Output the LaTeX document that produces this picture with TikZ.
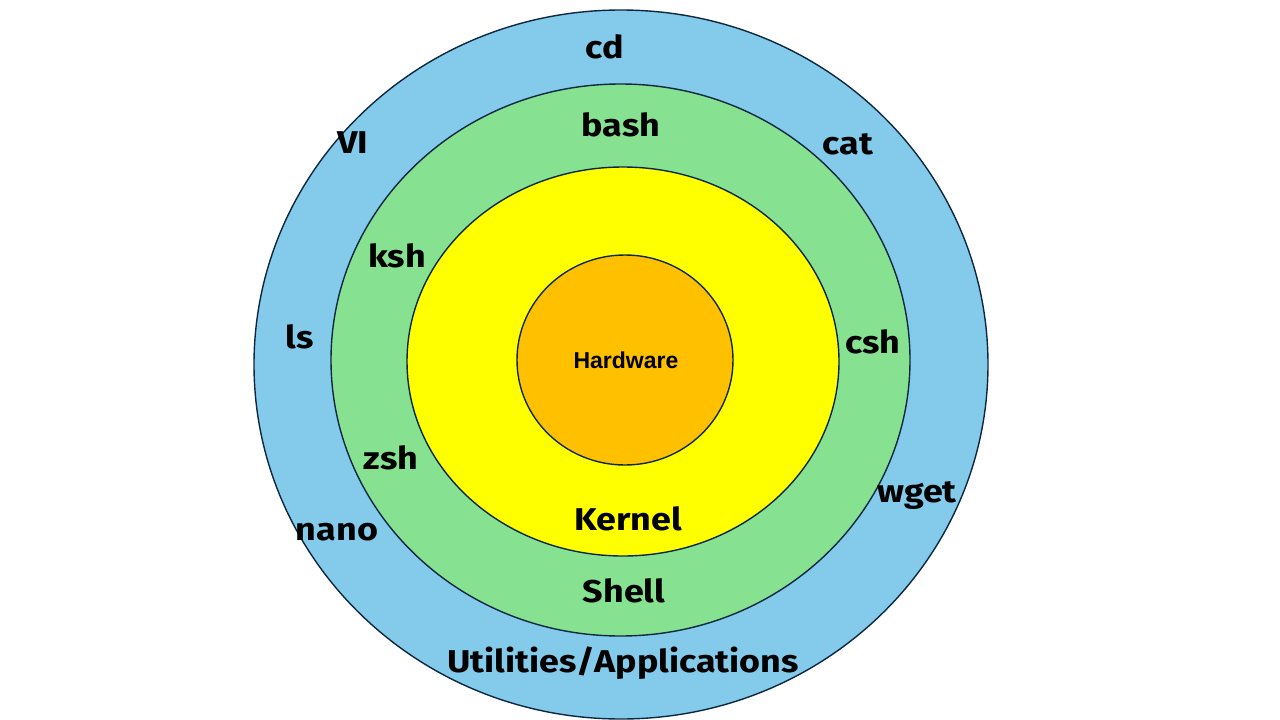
\documentclass[tikz,border=0pt]{standalone}
\usepackage{fontspec}
\setmainfont{Fira Sans}
\newfontfamily\hwfont{Liberation Sans}
\definecolor{ringblue}{HTML}{83CAEB}
\definecolor{ringgreen}{HTML}{86E291}
\definecolor{ringyellow}{HTML}{FFFF00}
\definecolor{ringorange}{HTML}{FFC000}
\definecolor{ringline}{HTML}{0E2841}
\begin{document}
\begin{tikzpicture}[x=1pt,y=-1pt,
  ring/.style={draw=ringline,line width=1.4pt},
  lbl/.style={font=\fontsize{31.5}{33}\selectfont\bfseries,inner sep=0pt,text=black,xscale=1.14}]
\useasboundingbox (0,0) rectangle (1280,720);
\fill[white] (0,0) rectangle (1280,720);
\draw[ring,fill=ringblue] (621,364.5) ellipse [x radius=367, y radius=354.5];
\draw[ring,fill=ringgreen] (620.5,360) ellipse [x radius=289.5, y radius=276];
\draw[ring,fill=ringyellow] (623,361.5) ellipse [x radius=216, y radius=194.5];
\draw[ring,fill=ringorange] (625,360) ellipse [x radius=108, y radius=105];
\node[lbl] (cd) at (605,47) {cd};
\node[lbl] (vi) at (353,143) {VI};
\node[lbl] (cat) at (848,144) {cat};
\node[lbl] (bash) at (621,125) {bash};
\node[lbl] (ksh) at (397,256) {ksh};
\node[lbl] (ls) at (300,337) {ls};
\node[lbl] (csh) at (873,342) {csh};
\node[inner sep=0pt,font=\hwfont\fontsize{23}{25}\selectfont\bfseries] (hw) at (626,360) {Hardware};
\node[lbl] (zsh) at (391,458) {zsh};
\node[lbl] (wget) at (917,496) {wget};
\node[lbl] (nano) at (337,532) {nano};
\node[lbl] (kernel) at (628,519) {Kernel};
\node[lbl] (shell) at (624,591) {Shell};
\node[lbl] (util) at (623,663) {Utilities/Applications};
\end{tikzpicture}
\end{document}
